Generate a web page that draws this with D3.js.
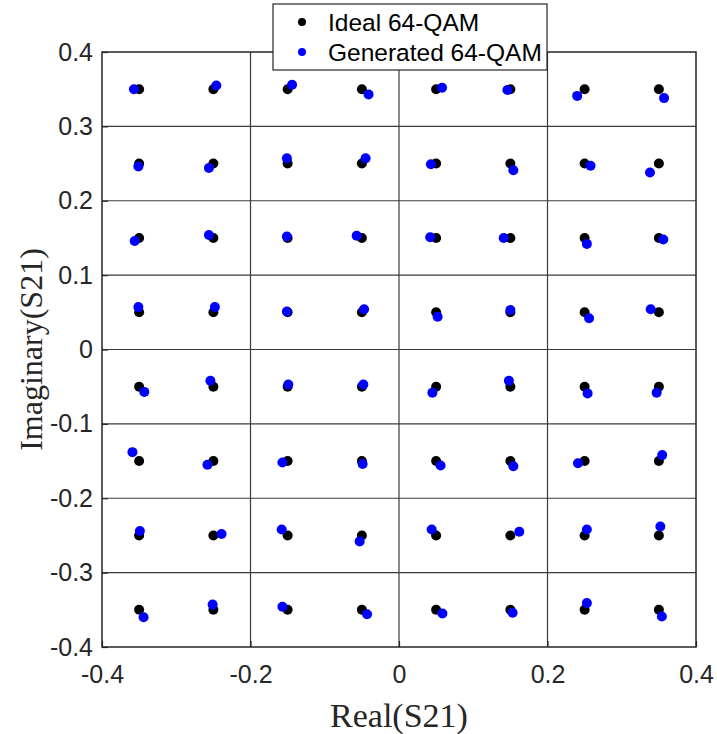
<!DOCTYPE html>
<html>
<head>
<meta charset="utf-8">
<script src="https://cdn.jsdelivr.net/npm/d3@7"></script>
<style>
  html, body { margin: 0; padding: 0; background: #fff; }
  svg { display: block; }
</style>
</head>
<body>
<svg id="chart" width="717" height="734"></svg>
<script>
// Ideal 64-QAM levels (same on both I and Q axes)
const levels = [-0.35, -0.25, -0.15, -0.05, 0.05, 0.15, 0.25, 0.35];

// Generated constellation points, row by row from top (Q = 0.35) to bottom (Q = -0.35),
// each row ordered by I from -0.35 to 0.35
const generatedReal = [
  -0.357, -0.246, -0.144, -0.041,  0.058,  0.146,  0.240,  0.357,
  -0.351, -0.256, -0.151, -0.045,  0.043,  0.154,  0.258,  0.338,
  -0.356, -0.256, -0.151, -0.057,  0.042,  0.141,  0.253,  0.356,
  -0.351, -0.248, -0.151, -0.047,  0.052,  0.150,  0.256,  0.339,
  -0.343, -0.254, -0.149, -0.048,  0.045,  0.148,  0.254,  0.347,
  -0.359, -0.258, -0.157, -0.049,  0.056,  0.154,  0.241,  0.3545,
  -0.349, -0.239, -0.158, -0.053,  0.044,  0.162,  0.253,  0.352,
  -0.344, -0.251, -0.157, -0.043,  0.0585, 0.153,  0.253,  0.354
];
const generatedImag = [
   0.350,  0.355,  0.356,  0.343,  0.352,  0.349,  0.341,  0.338,
   0.246,  0.244,  0.257,  0.257,  0.249,  0.241,  0.247,  0.238,
   0.146,  0.154,  0.152,  0.153,  0.151,  0.150,  0.142,  0.148,
   0.057,  0.057,  0.051,  0.054,  0.044,  0.053,  0.042,  0.054,
  -0.057, -0.042, -0.047, -0.047, -0.058, -0.042, -0.059, -0.058,
  -0.138, -0.155, -0.152, -0.154, -0.156, -0.157, -0.153, -0.142,
  -0.244, -0.248, -0.242, -0.258, -0.242, -0.245, -0.242, -0.238,
  -0.360, -0.343, -0.346, -0.356, -0.355, -0.354, -0.341, -0.359
];

const xTicks = [-0.4, -0.2, 0, 0.2, 0.4];
const yTicks = [-0.4, -0.3, -0.2, -0.1, 0, 0.1, 0.2, 0.3, 0.4];
const seriesNames = ["Ideal 64-QAM", "Generated 64-QAM"];
const seriesColors = ["#000000", "#0000ff"];

const svg = d3.select("#chart");
const m = { left: 102, right: 696, top: 52, bottom: 647 };

const x = d3.scaleLinear().domain([-0.4, 0.4]).range([m.left, m.right]);
const y = d3.scaleLinear().domain([-0.4, 0.4]).range([m.bottom, m.top]);

// Plain hyphen for negative numbers
const fmt = d => String(+d.toFixed(1));
const gridColor = "#3a3a3a";
const frameColor = "#262626";
const sans = "'Liberation Sans', Arial, sans-serif";
const serif = "'Liberation Serif', 'Times New Roman', serif";

// Grid lines
const grid = svg.append("g");
grid.selectAll(".gx").data(xTicks.slice(1, -1)).join("line")
  .attr("x1", d => x(d)).attr("x2", d => x(d))
  .attr("y1", m.top).attr("y2", m.bottom)
  .attr("stroke", gridColor).attr("stroke-width", 1.2);
grid.selectAll(".gy").data(yTicks.slice(1, -1)).join("line")
  .attr("x1", m.left).attr("x2", m.right)
  .attr("y1", d => y(d)).attr("y2", d => y(d))
  .attr("stroke", gridColor).attr("stroke-width", 1.2);

// Axes with inward ticks
const xAxis = svg.append("g").attr("transform", `translate(0,${m.bottom})`)
  .call(d3.axisBottom(x).tickValues(xTicks).tickFormat(fmt).tickSizeInner(-6).tickSizeOuter(0).tickPadding(18));
const yAxis = svg.append("g").attr("transform", `translate(${m.left},0)`)
  .call(d3.axisLeft(y).tickValues(yTicks).tickFormat(fmt).tickSizeInner(-6).tickSizeOuter(0).tickPadding(9));
[xAxis, yAxis].forEach(a => {
  a.select(".domain").remove();
  a.selectAll(".tick line").attr("stroke", frameColor).attr("stroke-width", 1.2);
  a.selectAll(".tick text")
    .attr("fill", "#262626")
    .style("font-family", sans)
    .style("font-size", "25px");
});
xAxis.selectAll(".tick text").attr("dy", "0.71em");

// Frame
svg.append("rect")
  .attr("x", m.left).attr("y", m.top)
  .attr("width", m.right - m.left).attr("height", m.bottom - m.top)
  .attr("fill", "none").attr("stroke", frameColor).attr("stroke-width", 1.5);

// Ideal constellation
const ideal = [];
for (let r = levels.length - 1; r >= 0; r--) {
  for (let c = 0; c < levels.length; c++) ideal.push([levels[c], levels[r]]);
}
svg.append("g").selectAll("circle").data(ideal).join("circle")
  .attr("cx", d => x(d[0])).attr("cy", d => y(d[1]))
  .attr("r", 5).attr("fill", seriesColors[0]);

// Generated constellation
const generated = generatedReal.map((v, i) => [v, generatedImag[i]]);
svg.append("g").selectAll("circle").data(generated).join("circle")
  .attr("cx", d => x(d[0])).attr("cy", d => y(d[1]))
  .attr("r", 5).attr("fill", seriesColors[1]);

// Axis titles
svg.append("text")
  .attr("x", (m.left + m.right) / 2).attr("y", 727)
  .attr("text-anchor", "middle")
  .style("font-family", serif)
  .style("font-size", "34px").attr("fill", "#262626")
  .text("Real(S21)");
svg.append("text")
  .attr("transform", `translate(42,${(m.top + m.bottom) / 2}) rotate(-90)`)
  .attr("text-anchor", "middle")
  .style("font-family", serif)
  .style("font-size", "32px").attr("fill", "#262626")
  .text("Imaginary(S21)");

// Legend
const lg = svg.append("g");
lg.append("rect")
  .attr("x", 273).attr("y", 4).attr("width", 274).attr("height", 66)
  .attr("fill", "#fff").attr("stroke", frameColor).attr("stroke-width", 1.2);
seriesNames.forEach((name, i) => {
  const cy = 22 + i * 30;
  lg.append("circle").attr("cx", 302).attr("cy", cy).attr("r", 4).attr("fill", seriesColors[i]);
  lg.append("text").attr("x", 328).attr("y", cy).attr("dy", "0.35em")
    .style("font-family", sans)
    .style("font-size", "24.5px").attr("fill", "#000")
    .text(name);
});
</script>
</body>
</html>
